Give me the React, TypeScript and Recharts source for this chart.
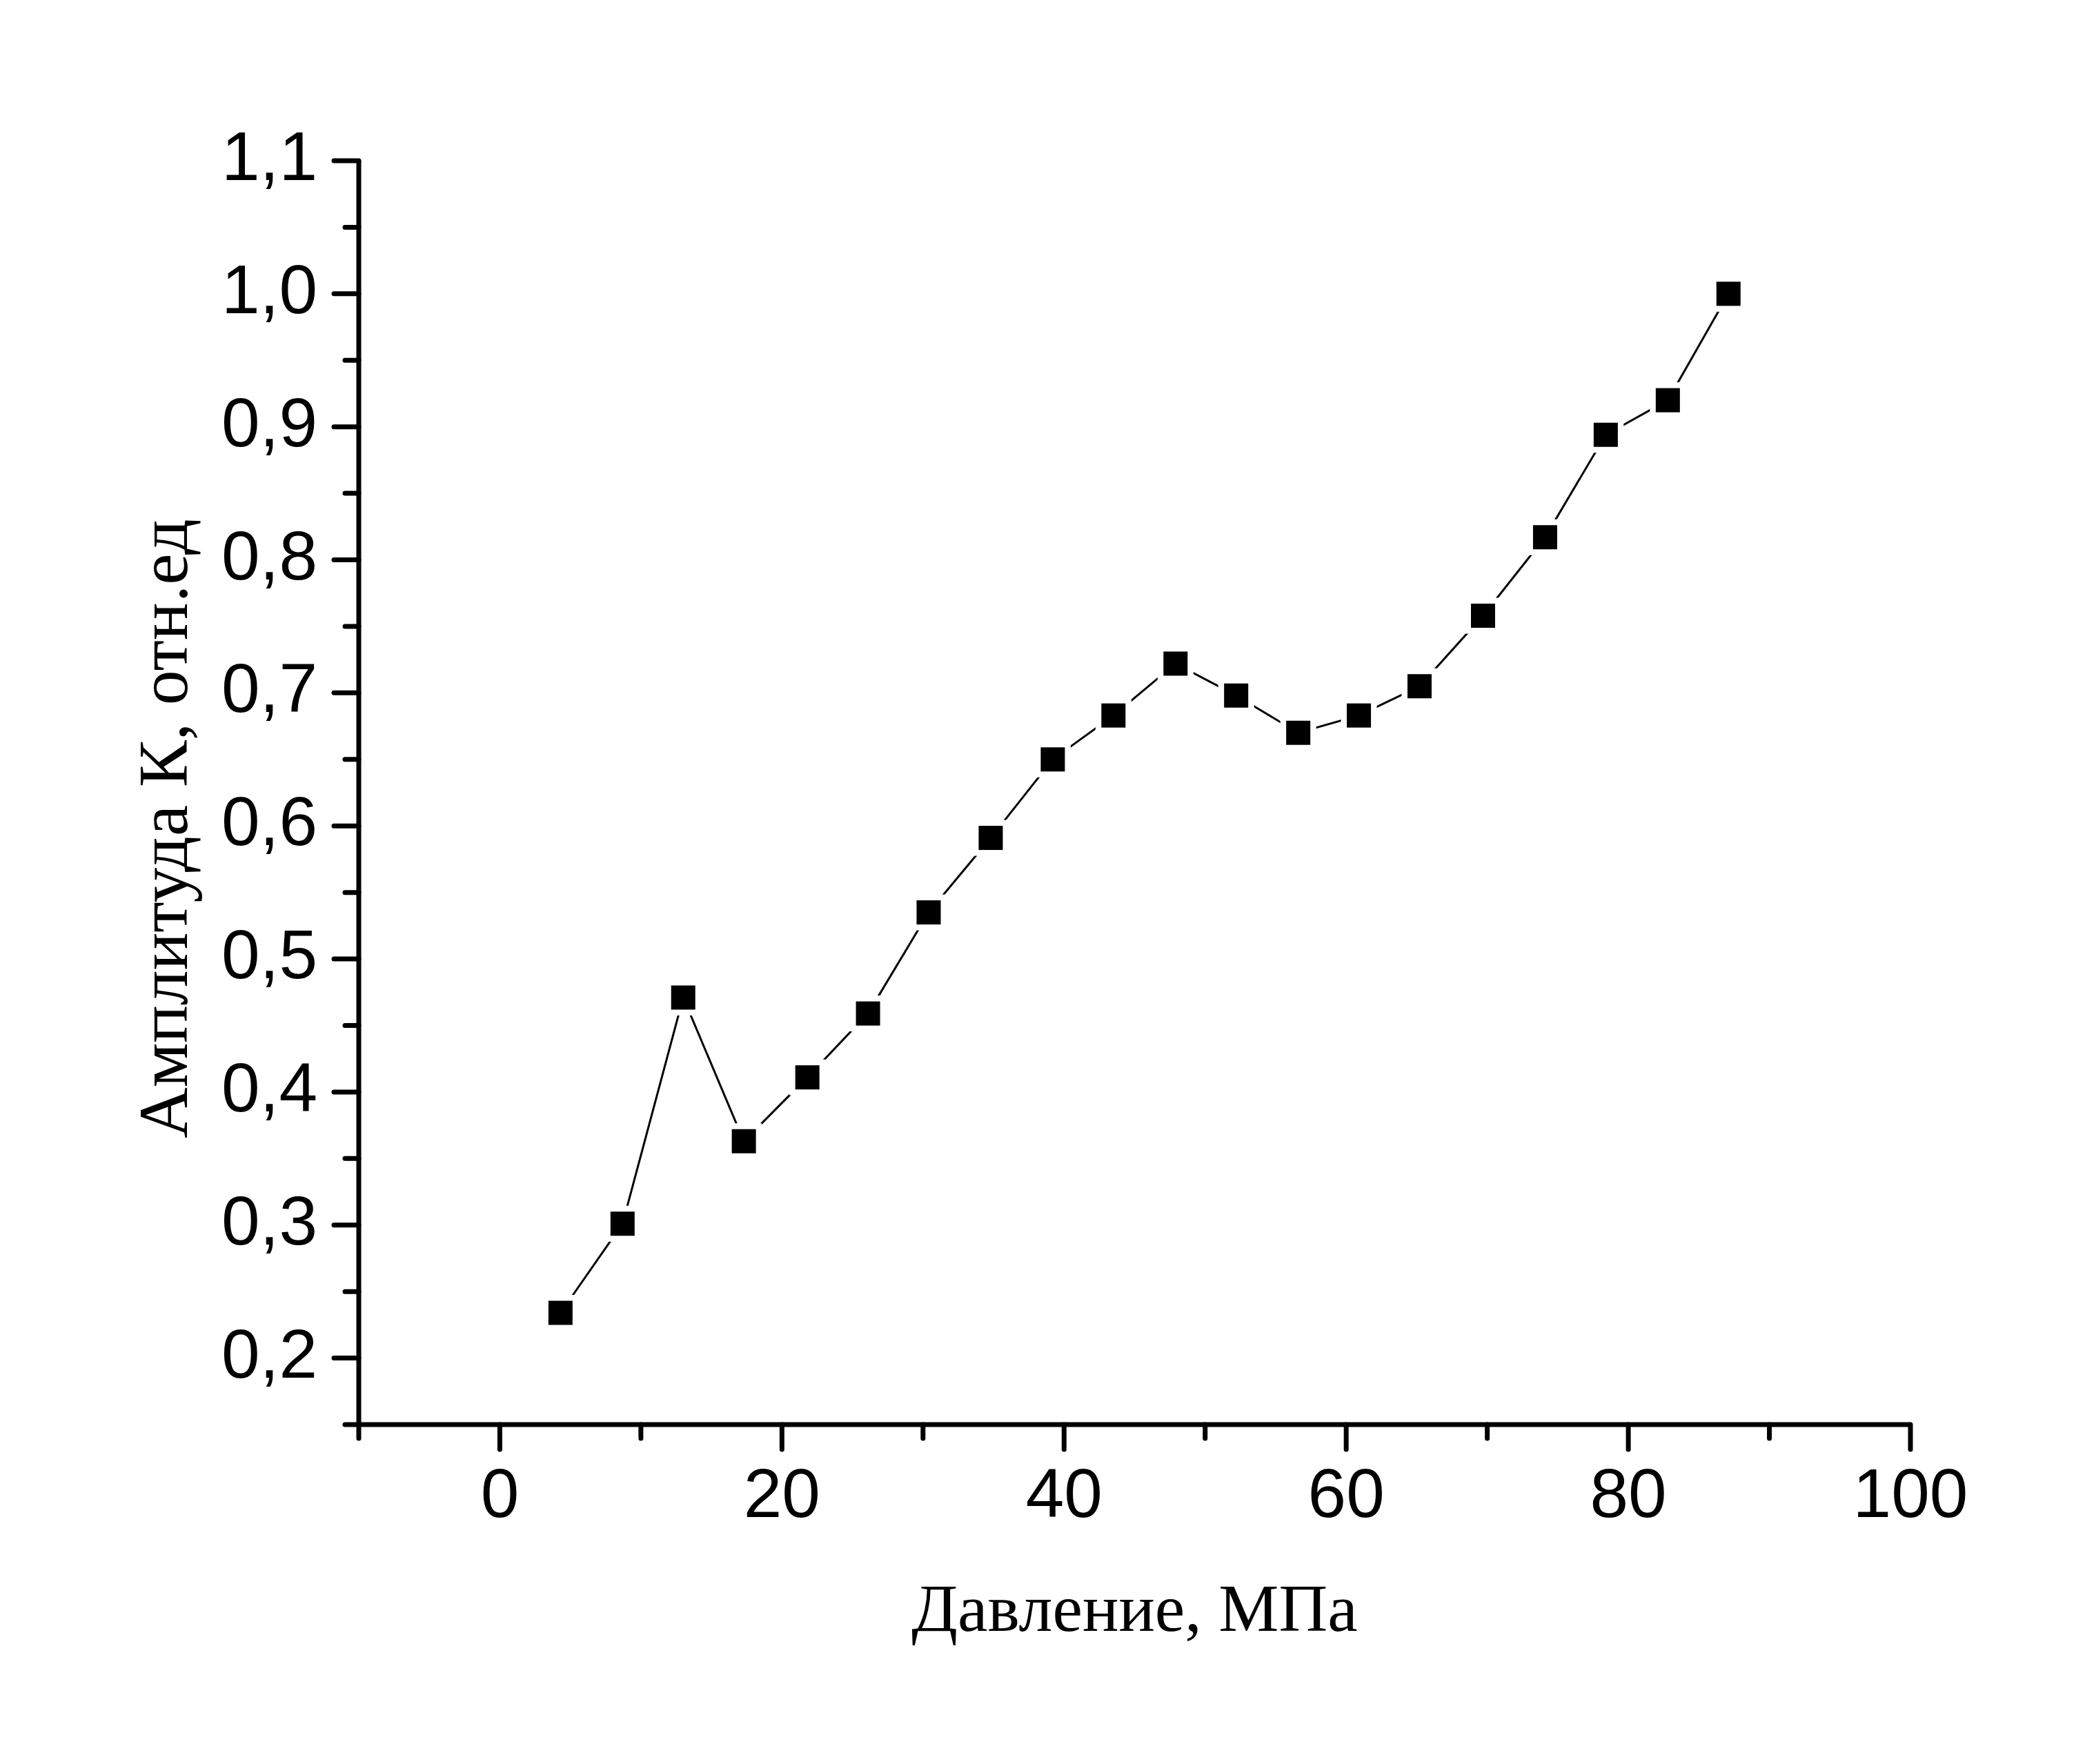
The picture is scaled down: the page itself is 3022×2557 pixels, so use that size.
import { CartesianGrid, Label, Line, LineChart, XAxis, YAxis } from "recharts";

// давление, МПа
const pressure = [4.3, 8.7, 13.0, 17.3, 21.8, 26.1, 30.4, 34.8, 39.2, 43.5, 47.9, 52.2, 56.6, 60.9, 65.2, 69.7, 74.1, 78.4, 82.8, 87.1];
// амплитуда К, отн.ед
const amplitude = [0.234, 0.301, 0.471, 0.363, 0.411, 0.459, 0.535, 0.591, 0.65, 0.683, 0.722, 0.698, 0.67, 0.683, 0.705, 0.758, 0.817, 0.894, 0.92, 1.0];

const xTicks = [-10, 0, 10, 20, 30, 40, 50, 60, 70, 80, 90, 100];
const xLabelled = [0, 20, 40, 60, 80, 100];
const yTicks = [0.15, 0.2, 0.25, 0.3, 0.35, 0.4, 0.45, 0.5, 0.55, 0.6, 0.65, 0.7, 0.75, 0.8, 0.85, 0.9, 0.95, 1.0, 1.05, 1.1];
const yLabelled = [0.2, 0.3, 0.4, 0.5, 0.6, 0.7, 0.8, 0.9, 1.0, 1.1];

const data = pressure.map((p, i) => ({ p, a: amplitude[i] }));

const SANS = "'Liberation Sans', Arial, sans-serif";
const SERIF = "'Liberation Serif', 'Times New Roman', serif";
const AXIS_W = 7;

const isMajor = (list: number[], v: number) => list.some((m) => Math.abs(m - v) < 1e-6);

function XTick({ x, y, payload }: any) {
  const major = isMajor(xLabelled, payload.value);
  const len = major ? 36 : 20;
  return (
    <g>
      <line x1={x} x2={x} y1={y} y2={y + len} stroke="#000" strokeWidth={AXIS_W} strokeLinecap="round" />
      {major && (
        <text x={x} y={y + 134} textAnchor="middle" fontFamily={SANS} fontSize={100} fill="#000">
          {payload.value}
        </text>
      )}
    </g>
  );
}

function YTick({ x, y, payload }: any) {
  const major = isMajor(yLabelled, payload.value);
  const len = major ? 36 : 20;
  return (
    <g>
      <line x1={x} x2={x - len} y1={y} y2={y} stroke="#000" strokeWidth={AXIS_W} strokeLinecap="round" />
      {major && (
        <text x={x - 60} y={y + 28} textAnchor="end" fontFamily={SANS} fontSize={100} fill="#000">
          {payload.value.toFixed(1).replace(".", ",")}
        </text>
      )}
    </g>
  );
}

function SquareDot({ cx, cy }: any) {
  if (cx == null || cy == null) return null;
  const s = 35;
  const h = 52;
  return (
    <g>
      <rect x={cx - h / 2} y={cy - h / 2} width={h} height={h} fill="#fff" />
      <rect x={cx - s / 2} y={cy - s / 2} width={s} height={s} fill="#000" />
    </g>
  );
}

export default function App() {
  return (
    <div style={{ position: "absolute", left: 0, top: 0, background: "#fff" }}>
      <LineChart width={3022} height={2557} data={data} margin={{ top: 233, right: 253, left: 0, bottom: 0 }}>
        <CartesianGrid stroke="none" />
        <XAxis
          type="number"
          dataKey="p"
          domain={[-10, 100]}
          ticks={xTicks}
          interval={0}
          height={492}
          tickSize={0}
          tickMargin={0}
          tick={<XTick />}
          axisLine={{ stroke: "#000", strokeWidth: AXIS_W }}
          tickLine={false}
        >
          <Label
            content={({ viewBox }: any) => (
              <text
                x={viewBox.x + viewBox.width / 2}
                y={2364}
                textAnchor="middle"
                fontFamily={SERIF}
                fontSize={98}
                fill="#000"
              >
                Давление, МПа
              </text>
            )}
          />
        </XAxis>
        <YAxis
          type="number"
          dataKey="a"
          domain={[0.15, 1.1]}
          ticks={yTicks}
          interval={0}
          width={520}
          tickSize={0}
          tickMargin={0}
          tick={<YTick />}
          axisLine={{ stroke: "#000", strokeWidth: AXIS_W }}
          tickLine={false}
        >
          <Label
            content={() => (
              <text
                x={271}
                y={1201}
                transform="rotate(-90, 271, 1201)"
                textAnchor="middle"
                fontFamily={SERIF}
                fontSize={102}
                fill="#000"
              >
                Амплитуда К, отн.ед
              </text>
            )}
          />
        </YAxis>
        <Line
          type="linear"
          dataKey="a"
          stroke="#000"
          strokeWidth={3}
          dot={<SquareDot />}
          activeDot={false}
          isAnimationActive={false}
        />
      </LineChart>
    </div>
  );
}
